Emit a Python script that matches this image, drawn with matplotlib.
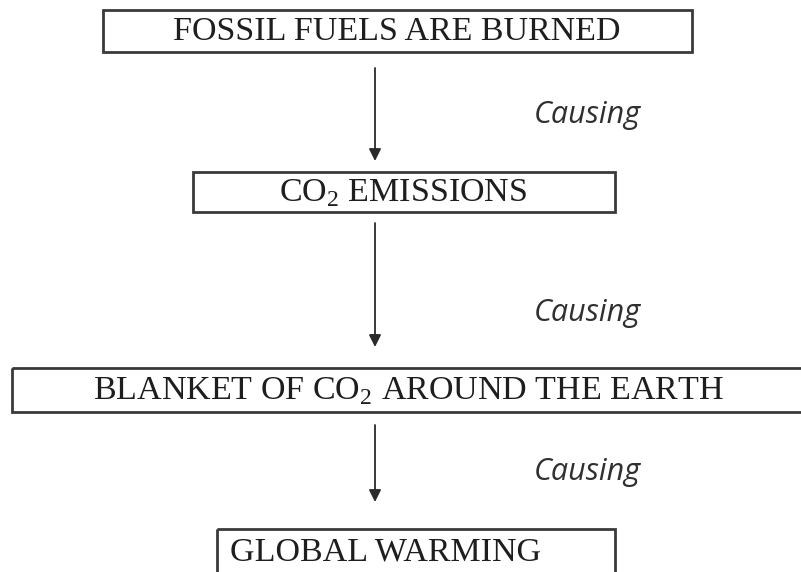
import matplotlib.pyplot as plt
from matplotlib.patches import Rectangle

plt.rcParams['mathtext.fontset'] = 'custom'
plt.rcParams['mathtext.rm'] = 'Liberation Serif'

# flowchart steps
labels = ["FOSSIL FUELS ARE BURNED",
          "CO$_2$ EMISSIONS",
          "BLANKET OF CO$_2$ AROUND THE EARTH",
          "GLOBAL WARMING"]
# box extents in pixels (left, right, top, bottom)
box_x = [(103, 692), (193, 615), (12, 806), (217, 615)]
box_y = [(10, 52), (172, 212), (368, 412), (529, 580)]
text_y = [32, 193, 391, 552]
text_x = [397, 403, 408, 386]

# arrows between steps
arrow_x = 375
arrow_y = [(68, 161), (223, 347), (425, 502)]
cause_label = "Causing"
cause_y = [115, 313, 472]
cause_x = 587

fig = plt.figure(figsize=(8.01, 5.72), dpi=100)
ax = fig.add_axes([0, 0, 1, 1])
ax.set_xlim(0, 801)
ax.set_ylim(572, 0)
ax.axis('off')

for lab, (x0, x1), (y0, y1), tx, ty in zip(labels, box_x, box_y, text_x, text_y):
    ax.add_patch(Rectangle((x0, y0), x1 - x0, y1 - y0, fill=False,
                           edgecolor='#3a3a3a', lw=2, clip_on=True))
    ax.text(tx, ty, lab, ha='center', va='center', fontsize=24.5,
            family='Liberation Serif', color='#1e1e1e')

for (y0, y1), cy in zip(arrow_y, cause_y):
    ax.annotate('', xy=(arrow_x, y1), xytext=(arrow_x, y0),
                arrowprops=dict(arrowstyle='-|>', color='#2a2a2a', lw=1.3,
                                mutation_scale=18, shrinkA=0, shrinkB=0))
    ax.text(cause_x, cy, cause_label, ha='center', va='center', fontsize=22,
            style='italic', family='Open Sans', color='#303030')

fig.savefig('out.png', dpi=100)
